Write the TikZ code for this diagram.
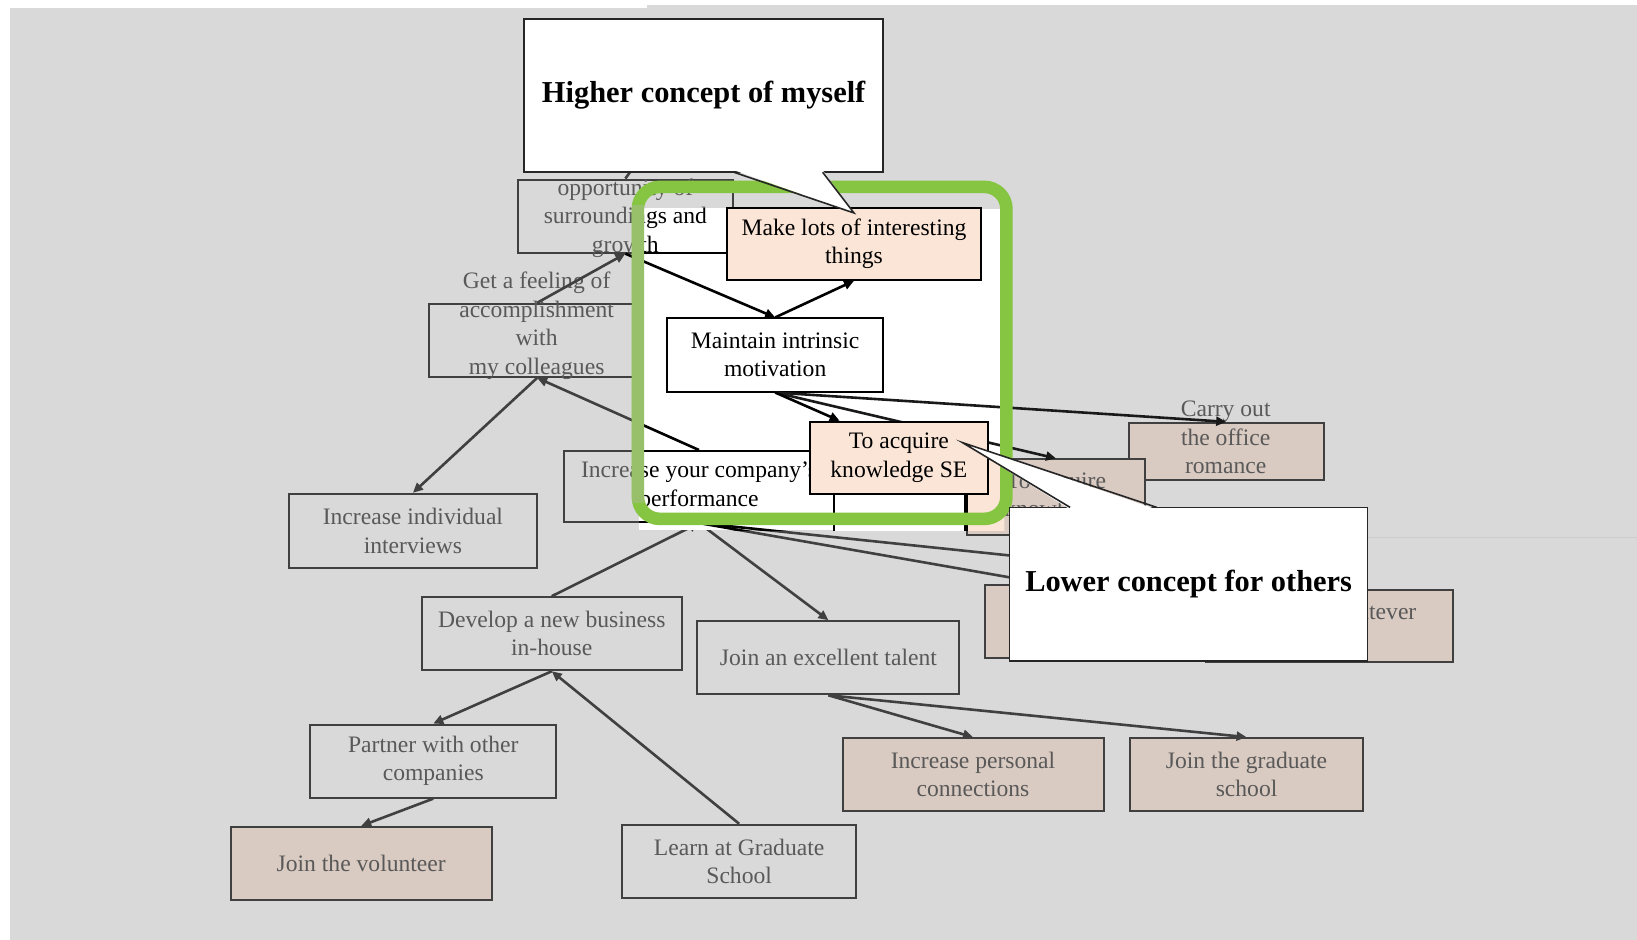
\documentclass[tikz,border=0pt]{standalone}
\usepackage{fontspec}
\setmainfont{Liberation Serif}
\usetikzlibrary{arrows.meta, calc}

\definecolor{bgray}{RGB}{217,217,217}
\definecolor{tgray}{RGB}{89,89,89}
\definecolor{lgray}{RGB}{64,64,64}
\definecolor{taupe}{RGB}{218,203,194}
\definecolor{peach}{RGB}{251,229,214}
\definecolor{frameg}{RGB}{134,197,66}
\definecolor{frameh}{RGB}{152,192,106}

\begin{document}
\begin{tikzpicture}[x=0.522pt, y=-0.522pt,
    BX/.style args = {#1/#2/#3}{
                    draw=#1,% line color
                    fill=#2,
                    text=#3,
                    line width=1pt, inner sep=0pt,
                    font=\fontsize{11.8}{14.2}\selectfont,
                    align=center},
    sz/.style 2 args = {minimum width=#1*0.522pt, minimum height=#2*0.522pt},
    txt/.style = {text=#1, inner sep=0pt,
                    font=\fontsize{11.8}{14.2}\selectfont, align=center},
    line/.style = {draw=#1, line width=1.3pt,
                    -{Triangle[length=5pt,width=4.5pt]}},
    link/.style = {draw=#1, line width=1.3pt},
    CO/.style = {draw=black!85, fill=white, line width=0.8pt, inner sep=0pt,
                    font=\fontsize{15.2}{18}\selectfont\bfseries}]
%---
\useasboundingbox (0,0) rectangle (1568,900);
\fill[bgray] (10,8) rectangle (620,900);
\fill[bgray] (620,5) rectangle (1568,900);
\draw[black!20, line width=0.6pt] (1310,515) -- (1568,515);
% grey layer
\node (opp)  [BX=lgray/bgray/tgray, sz={206}{70}] at (599,207) {};
\node (oppt) [txt=tgray] at (599,209) {opportunity of\\surroundings and\\growth};
\node (feel) [BX=lgray/bgray/tgray, sz={207}{70}] at (514.5,326) {};
\node (feelt)[txt=tgray] at (514,312) {Get a feeling of\\accomplishment\\with\\my colleagues};
\node (comp) [BX=lgray/bgray/tgray, sz={259}{68}] at (669.5,466) {Increase your company's\\performance};
\node (intv) [BX=lgray/bgray/tgray, sz={237}{71}] at (395.5,508.5) {Increase individual\\interviews};
\node (dev)  [BX=lgray/bgray/tgray, sz={249}{70}] at (528.5,607) {Develop a new business\\in-house};
\node (part) [BX=lgray/bgray/tgray, sz={236}{70}] at (415,729) {Partner with other\\companies};
\node (vol)  [BX=lgray/taupe/tgray, sz={250}{70}] at (346,827) {Join the volunteer};
\node (learn)[BX=lgray/bgray/tgray, sz={224}{70}] at (708,825) {Learn at Graduate\\School};
\node (tal)  [BX=lgray/bgray/tgray, sz={251}{70}] at (793.5,630) {Join an excellent talent};
\node (pers) [BX=lgray/taupe/tgray, sz={250}{70}] at (932,742) {Increase personal\\connections};
\node (grad) [BX=lgray/taupe/tgray, sz={224}{70}] at (1194,742) {Join the graduate\\school};
\node (carry)[BX=lgray/taupe/tgray, sz={187}{55}] at (1174.5,432.5) {};
\node (carryt)[txt=tgray] at (1174,419) {Carry out\\the office\\romance};
\node (know) [BX=lgray/taupe/tgray, sz={171}{72}] at (1011.5,476) {To acquire\\knowledge};
\node (boxa) [BX=lgray/taupe/tgray, sz={117}{70}] at (1001.5,595) {};
\node (what) [BX=lgray/taupe/tgray, sz={237}{69}] at (1273.5,599.5) {};
\node (whatt)[txt=tgray, anchor=east] at (1357,586) {whatever};
\coordinate (oppup) at (607,160);
% grey lines
\draw[link=lgray] (opp.north) -- (oppup);
\draw[line=lgray] (feel.north) -- (opp.south);
\draw[line=lgray] (feel.south) -- (intv.north);
\draw[line=lgray] (comp.north) -- (feel.south);
\draw[line=lgray] (dev.north)  -- (comp.south);
\draw[line=lgray] (comp.south) -- (tal.north);
\draw[link=lgray] (comp.south) -- (boxa.north);
\draw[link=lgray] (comp.south) -- (what.north);
\draw[line=lgray] (dev.south)  -- (part.north);
\draw[line=lgray] (learn.north) -- (dev.south);
\draw[line=lgray] (part.south) -- (vol.north);
\draw[line=lgray] (tal.south)  -- (pers.north);
\draw[line=lgray] (tal.south)  -- (grad.north);
% white window
\begin{scope}
\clip (612,200) rectangle (962,508);
\fill[white] (612,200) rectangle (962,508);
\node (opp2)  [BX=black/white/black, sz={206}{70}] at (599,207) {};
\node (opp2t) [txt=black] at (599,209) {opportunity of\\surroundings and\\growth};
\node (comp2) [BX=black/white/black, sz={259}{68}] at (669.5,466) {Increase your company's\\performance};
\node (hid)   [BX=black/white/black, sz={125}{80}] at (861.5,480) {};
\node (know2) [BX=black/peach/black, sz={171}{72}] at (1011.5,476) {To acquire\\knowledge};
\draw[line=black] (comp2.north) -- (feel.south);
\draw[link=black] (comp2.south) -- (boxa.north);
\draw[link=black] (comp2.south) -- (what.north);
\end{scope}
\node (maint) [BX=black/white/black, sz={207}{70}] at (742.5,340) {Maintain intrinsic\\motivation};
\node (make)  [BX=black/peach/black, sz={244}{69}] at (818,233.5) {Make lots of interesting\\things};
\draw[line=black!90] (maint.south) -- (know.north);
\draw[line=black!90] (maint.south) -- (carry.north);
\node (acq)   [BX=black/peach/black, sz={170}{69}] at (861,438.5) {To acquire\\knowledge SE};
\draw[line=black] (maint.south) -- ($(acq.north west)!0.17!(acq.north east)$);
\draw[line=black] (opp.south) -- (maint.north);
\draw[line=black] (maint.north) -- (make.south);
% green frame
\draw[frameg, line width=6.3pt, rounded corners=11pt] (611,179) rectangle (964,497);
\draw[frameh, line width=6.3pt] (611,196) -- (611,482);
% callouts
\node (hi) [CO, sz={344}{147}] at (674,91.5) {Higher concept of myself};
\fill[white] (703,163) -- (818,204) -- (788,163) -- cycle;
\draw[black!85, line width=0.8pt] (703,165) -- (818,204) -- (788,165);
\node (lo) [CO, sz={343}{147}] at (1138.5,559.5) {Lower concept for others};
\fill[white] (1025,488) -- (922,424) -- (1108,488) -- cycle;
\draw[black!85, line width=0.8pt] (1025,486) -- (922,424) -- (1108,486);
\end{tikzpicture}
\end{document}
